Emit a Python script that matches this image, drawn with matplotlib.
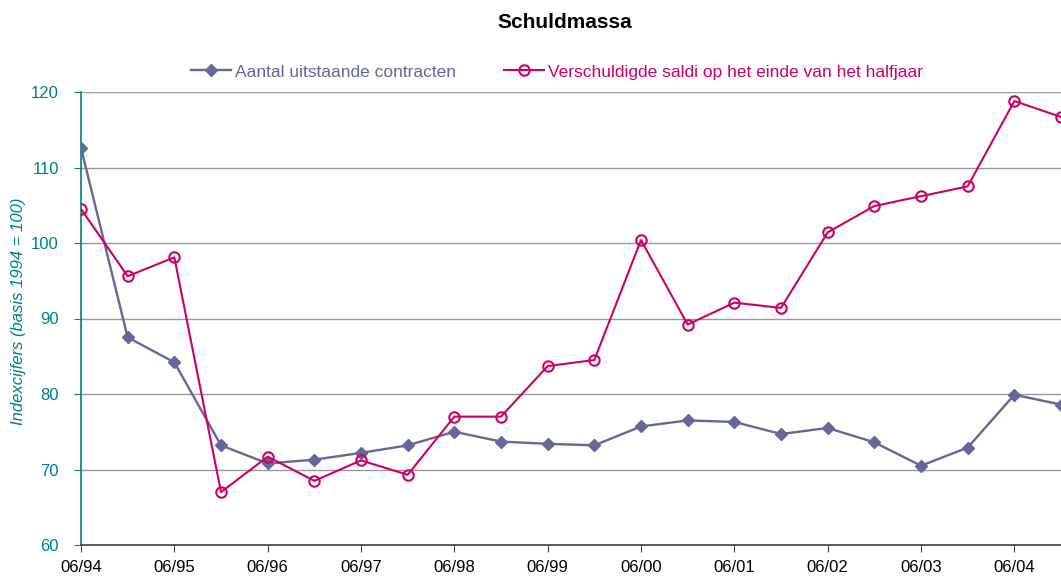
import numpy as np
import matplotlib.pyplot as plt

plt.rcParams['font.family'] = ['Liberation Sans', 'DejaVu Sans']

# half-yearly periods 06/94 .. 12/04
periods = ['06/94', '12/94', '06/95', '12/95', '06/96', '12/96', '06/97', '12/97',
           '06/98', '12/98', '06/99', '12/99', '06/00', '12/00', '06/01', '12/01',
           '06/02', '12/02', '06/03', '12/03', '06/04', '12/04']

contracten = [112.6, 87.5, 84.2, 73.2, 70.8, 71.3, 72.2, 73.2, 75.0, 73.7, 73.4,
              73.2, 75.7, 76.5, 76.3, 74.7, 75.5, 73.6, 70.5, 72.9, 79.9, 78.6]
saldi = [104.5, 95.6, 98.1, 67.0, 71.7, 68.5, 71.2, 69.3, 77.0, 77.0, 83.7,
         84.5, 100.4, 89.2, 92.1, 91.4, 101.4, 104.9, 106.2, 107.5, 118.8, 116.7]

purple = '#666699'
magenta = '#CC0066'
teal = '#008080'

x = np.arange(len(periods))

fig = plt.figure(figsize=(10.61, 5.78), dpi=100)
ax = fig.add_axes([81 / 1061, 33 / 578, 1 - 81 / 1061, 453 / 578])

ax.plot(x, contracten, color=purple, lw=1.7, marker='D', ms=6.5,
        mfc=purple, mec=purple, label='Aantal uitstaande contracten', zorder=3)
ax.plot(x, saldi, color=magenta, lw=1.5, marker='o', ms=7.5, mfc='none',
        mec=magenta, mew=1.5, label='Verschuldigde saldi op het einde van het halfjaar',
        zorder=4)

ax.set_xlim(0, len(periods) - 1)
ax.set_ylim(60, 120)
ax.set_yticks(range(60, 121, 10))
ax.set_xticks(x[::2])
ax.set_xticklabels(periods[::2])

ax.yaxis.grid(True, color='#999999', lw=1)
ax.set_axisbelow(True)

for s in ['top', 'right']:
    ax.spines[s].set_visible(False)
ax.spines['left'].set_color(teal)
ax.spines['left'].set_linewidth(1.2)
ax.spines['bottom'].set_color('#444444')
ax.spines['bottom'].set_linewidth(1.2)

ax.tick_params(axis='y', colors=teal, labelsize=12, length=5, pad=11)
ax.tick_params(axis='x', colors='#444444', labelcolor='black', labelsize=12,
               length=5, pad=6)

ax.set_ylabel('Indexcijfers (basis 1994 = 100)', color=teal, style='italic',
              fontsize=12)
ax.yaxis.set_label_coords(-0.056, 0.515)

fig.text(0.532, 1 - 22 / 578, 'Schuldmassa', ha='center', va='center',
         fontsize=15, fontweight='bold')

leg = fig.legend(loc='center', bbox_to_anchor=(557 / 1061, 1 - 72 / 578), ncol=2,
                 frameon=False, fontsize=12.5, handlelength=2.3, handletextpad=0.2,
                 columnspacing=2.8)
for txt, c in zip(leg.get_texts(), [purple, magenta]):
    txt.set_color(c)

fig.savefig('out.png', dpi=100)
